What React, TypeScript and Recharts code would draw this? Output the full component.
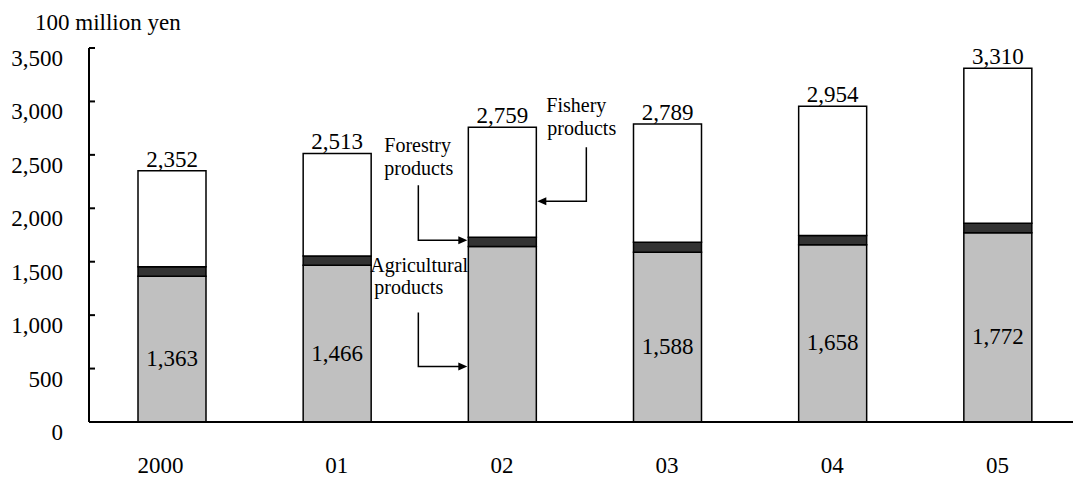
import React from "react";
import { BarChart, Bar, XAxis, YAxis, LabelList } from "recharts";

const years = ["2000", "01", "02", "03", "04", "05"];
const agricultural = [1363, 1466, 1642, 1588, 1658, 1772];
const forestry = [90, 88, 88, 95, 88, 88];
const fishery = [899, 959, 1029, 1106, 1208, 1450];
const totals = [2352, 2513, 2759, 2789, 2954, 3310];
// 2002 agricultural value is not printed in the original (arrows sit there)
const agriPrinted = [true, true, false, true, true, true];
const yTicks = [0, 500, 1000, 1500, 2000, 2500, 3000, 3500];

const noteIndex = 2;
const FONT = '"Liberation Serif", "Times New Roman", serif';

const data = years.map((year, i) => ({
  year,
  agricultural: agricultural[i],
  forestry: forestry[i],
  fishery: fishery[i],
  total: totals[i],
  agriLabel: agriPrinted[i] ? agricultural[i] : null,
}));

const fmt = (v: number) => v.toLocaleString("en-US");

function rectOf(props: any) {
  const vb = props.viewBox || {};
  return {
    x: Number(vb.x ?? props.x),
    y: Number(vb.y ?? props.y),
    width: Number(vb.width ?? props.width),
    height: Number(vb.height ?? props.height),
  };
}

function ArrowHead({ x, y, dir }: { x: number; y: number; dir: 1 | -1 }) {
  // tip at (x, y), pointing right (1) or left (-1)
  return (
    <polygon
      points={`${x},${y} ${x - dir * 9},${y - 4} ${x - dir * 9},${y + 4}`}
      fill="#000"
    />
  );
}

const textStyle = { fontFamily: FONT, fontSize: 20, fill: "#000" };

function FisheryNote(props: any) {
  if (props.index !== noteIndex) return null;
  const r = rectOf(props);
  const right = r.x + r.width;
  const vx = right + 50;
  const ay = r.y + 74;
  return (
    <g>
      <text x={right + 10} y={r.y - 15} style={textStyle}>Fishery</text>
      <text x={right + 11} y={r.y + 8} style={textStyle}>products</text>
      <polyline
        points={`${vx},${r.y + 20} ${vx},${ay} ${right + 8},${ay}`}
        fill="none"
        stroke="#000"
        strokeWidth={1.5}
      />
      <ArrowHead x={right + 1} y={ay} dir={-1} />
    </g>
  );
}

function ForestryNote(props: any) {
  if (props.index !== noteIndex) return null;
  const r = rectOf(props);
  const vx = r.x - 50;
  const ay = r.y + 3;
  return (
    <g>
      <text x={r.x - 84} y={r.y - 85} style={textStyle}>Forestry</text>
      <text x={r.x - 84} y={r.y - 62} style={textStyle}>products</text>
      <polyline
        points={`${vx},${r.y - 52} ${vx},${ay} ${r.x - 8},${ay}`}
        fill="none"
        stroke="#000"
        strokeWidth={1.5}
      />
      <ArrowHead x={r.x - 1} y={ay} dir={1} />
    </g>
  );
}

function AgriNote(props: any) {
  if (props.index !== noteIndex) return null;
  const r = rectOf(props);
  const vx = r.x - 50;
  const ay = r.y + 120;
  return (
    <g>
      <text x={r.x - 98} y={r.y + 25} style={textStyle}>Agricultural</text>
      <text x={r.x - 94} y={r.y + 47} style={textStyle}>products</text>
      <polyline
        points={`${vx},${r.y + 66} ${vx},${ay} ${r.x - 8},${ay}`}
        fill="none"
        stroke="#000"
        strokeWidth={1.5}
      />
      <ArrowHead x={r.x - 1} y={ay} dir={1} />
    </g>
  );
}

function AgriValue(props: any) {
  if (props.value == null) return null;
  const r = rectOf(props);
  return (
    <text
      x={r.x + r.width / 2}
      y={r.y + r.height / 2 + 17}
      textAnchor="middle"
      style={{ fontFamily: FONT, fontSize: 23, fill: "#000" }}
    >
      {fmt(Number(props.value))}
    </text>
  );
}

function TotalValue(props: any) {
  const r = rectOf(props);
  return (
    <text
      x={r.x + r.width / 2}
      y={r.y - 4}
      textAnchor="middle"
      style={{ fontFamily: FONT, fontSize: 23, fill: "#000" }}
    >
      {fmt(Number(props.value))}
    </text>
  );
}

function YTick(props: any) {
  const { x, y, payload } = props;
  return (
    <g>
      <line x1={x} x2={x + 6} y1={y} y2={y} stroke="#000" strokeWidth={2} />
      <text
        x={x - 26}
        y={y + 18}
        textAnchor="end"
        style={{ fontFamily: FONT, fontSize: 23, fill: "#000" }}
      >
        {fmt(Number(payload.value))}
      </text>
    </g>
  );
}

function XTick(props: any) {
  const { x, y, payload, index } = props;
  return (
    <text
      x={x + (index === 0 ? -11 : 0)}
      y={y + 51}
      textAnchor="middle"
      style={{ fontFamily: FONT, fontSize: 23, fill: "#000" }}
    >
      {payload.value}
    </text>
  );
}

function YTitle(props: any) {
  const vb = props.viewBox || { y: 48 };
  return (
    <text
      x={35}
      y={vb.y - 18}
      style={{ fontFamily: FONT, fontSize: 23, fill: "#000" }}
    >
      100 million yen
    </text>
  );
}

export default function App() {
  return (
    <div
      style={{
        position: "absolute",
        left: 0,
        top: 0,
        width: 1073,
        height: 478,
        overflow: "hidden",
        background: "#fff",
      }}
    >
      <BarChart
        width={1090}
        height={478}
        data={data}
        margin={{ top: 48, right: 10, left: 0, bottom: 0 }}
      >
        <XAxis
          dataKey="year"
          height={56}
          tickSize={0}
          tickMargin={0}
          tickLine={false}
          axisLine={{ stroke: "#000", strokeWidth: 2 }}
          tick={<XTick />}
          interval={0}
        />
        <YAxis
          width={89}
          domain={[0, 3500]}
          ticks={yTicks}
          tickSize={0}
          tickMargin={0}
          tickLine={false}
          axisLine={{ stroke: "#000", strokeWidth: 2 }}
          tick={<YTick />}
          interval={0}
          label={<YTitle />}
        />
        <Bar
          dataKey="agricultural"
          stackId="a"
          barSize={68}
          fill="#c0c0c0"
          stroke="#000"
          strokeWidth={1.5}
          isAnimationActive={false}
        >
          <LabelList dataKey="agriLabel" content={<AgriValue />} />
          <LabelList dataKey="agricultural" content={<AgriNote />} />
        </Bar>
        <Bar
          dataKey="forestry"
          stackId="a"
          barSize={68}
          fill="#333333"
          stroke="#000"
          strokeWidth={1.5}
          isAnimationActive={false}
        >
          <LabelList dataKey="forestry" content={<ForestryNote />} />
        </Bar>
        <Bar
          dataKey="fishery"
          stackId="a"
          barSize={68}
          fill="#ffffff"
          stroke="#000"
          strokeWidth={1.5}
          isAnimationActive={false}
        >
          <LabelList dataKey="total" content={<TotalValue />} />
          <LabelList dataKey="fishery" content={<FisheryNote />} />
        </Bar>
      </BarChart>
    </div>
  );
}
